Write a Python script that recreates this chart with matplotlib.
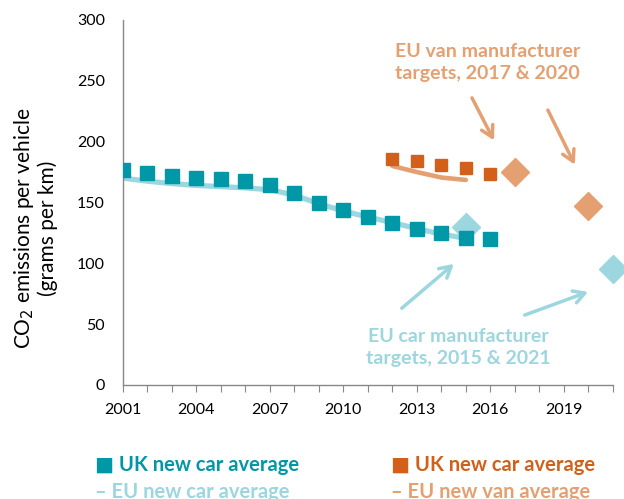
import matplotlib
matplotlib.use("Agg")
from matplotlib import pyplot as plt

plt.rcParams['font.family'] = ['Lato', 'DejaVu Sans']

# data
years_uk_car = list(range(2001, 2017))
uk_car = [176.5, 174.5, 172, 170, 169, 167.5, 164, 157.5, 149.5, 144, 138, 133, 128, 124.5, 121, 120]

years_eu_car = list(range(2001, 2016))
eu_car = [170, 167.5, 165.5, 164, 163, 162, 160.5, 156, 149, 143, 138, 133.5, 128.5, 124, 120.5]

years_uk_van = [2012, 2013, 2014, 2015, 2016]
uk_van = [185.5, 184, 180.5, 178.5, 173.5]

years_eu_van = [2012, 2013, 2014, 2015]
eu_van = [180, 175, 170.5, 168.5]

car_target_years = [2015, 2021]
car_targets = [130, 95]
van_target_years = [2017, 2020]
van_targets = [175, 147]

teal = '#0097A7'
light_teal = '#9CD6DE'
dark_orange = '#D2601A'
light_orange = '#E5A072'

fig = plt.figure(figsize=(6.24, 4.99), dpi=100)
ax = fig.add_axes([0.197, 0.2285, 0.785, 0.7315])

ax.plot(years_eu_car, eu_car, color=light_teal, lw=3.8, solid_capstyle='round', zorder=2)
ax.plot(years_uk_car, uk_car, 's', color=teal, ms=9.5, zorder=3)
ax.plot(years_eu_van, eu_van, color=light_orange, lw=3.3, solid_capstyle='round', zorder=2)
ax.plot(years_uk_van, uk_van, 's', color=dark_orange, ms=8.5, zorder=3)
ax.plot(car_target_years, car_targets, 'D', color=light_teal, ms=14, zorder=2, clip_on=False)
ax.plot(van_target_years, van_targets, 'D', color=light_orange, ms=14, zorder=4, clip_on=False)

ax.set_xlim(2001, 2021)
ax.set_ylim(0, 300)
ax.set_yticks(range(0, 301, 50))
ax.set_xticks(range(2001, 2022))
ax.set_xticklabels([str(y) if (y - 2001) % 3 == 0 else '' for y in range(2001, 2022)])
ax.tick_params(axis='y', length=0, pad=13, labelsize=11.5)
ax.tick_params(axis='x', length=5, color='#888888', pad=8, labelsize=11.5)
for s in ['top', 'right']:
    ax.spines[s].set_visible(False)
for s in ['left', 'bottom']:
    ax.spines[s].set_color('#888888')
    ax.spines[s].set_linewidth(1)

ax.set_ylabel('CO$_2$ emissions per vehicle\n(grams per km)', fontsize=15, linespacing=1.1)
ax.yaxis.set_label_coords(-0.133, 0.43)

# annotations
ax.text(2015.9, 265, 'EU van manufacturer\ntargets, 2017 & 2020', color=light_orange,
        fontsize=14, fontweight='bold', ha='center', va='center', linespacing=1.35)
arrow_van = dict(arrowstyle='->,head_length=0.8,head_width=0.45', color=light_orange, lw=2.5)
ax.annotate('', xy=(2016.2, 199), xytext=(2015.2, 238), arrowprops=arrow_van, annotation_clip=False)
ax.annotate('', xy=(2019.5, 179), xytext=(2018.3, 228), arrowprops=arrow_van, annotation_clip=False)

ax.text(2014.7, 31, 'EU car manufacturer\ntargets, 2015 & 2021', color=light_teal,
        fontsize=14, fontweight='bold', ha='center', va='center', linespacing=1.35)
arrow_car = dict(arrowstyle='->,head_length=0.8,head_width=0.45', color=light_teal, lw=2.5)
ax.annotate('', xy=(2014.6, 101), xytext=(2012.3, 61.6), arrowprops=arrow_car, annotation_clip=False)
ax.annotate('', xy=(2020.1, 77.3), xytext=(2017.3, 56.7), arrowprops=arrow_car, annotation_clip=False)

# legend as coloured text (second row is cut by the bottom edge, as in the reference)
fig.text(95 / 624, 1 - 465 / 499, '\u25a0 UK new car average', color=teal,
         fontsize=14.5, fontweight='bold', va='center')
fig.text(95 / 624, 1 - 492 / 499, '\u2013 EU new car average', color=light_teal,
         fontsize=14.5, fontweight='bold', va='center')
fig.text(391 / 624, 1 - 465 / 499, '\u25a0 UK new car average', color=dark_orange,
         fontsize=14.5, fontweight='bold', va='center')
fig.text(391 / 624, 1 - 492 / 499, '\u2013 EU new van average', color=light_orange,
         fontsize=14.5, fontweight='bold', va='center')

fig.savefig('out.png', dpi=100)
